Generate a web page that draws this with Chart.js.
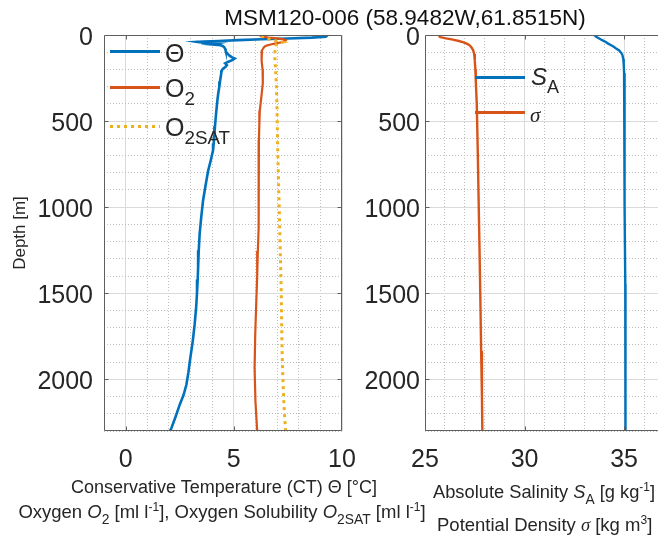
<!DOCTYPE html>
<html><head><meta charset="utf-8">
<script src="https://cdn.jsdelivr.net/npm/chart.js@4.4.0/dist/chart.umd.min.js"></script>
<style>
html,body{margin:0;padding:0;background:#fff;}
#wrap{position:relative;width:658px;height:535px;overflow:hidden;font-family:"Liberation Sans",Arial,Helvetica,sans-serif;color:#262626;}
canvas{position:absolute;top:0;}
.t{position:absolute;white-space:nowrap;line-height:1;}
.c{transform:translate(-50%,-50%);}
.l{transform:translateY(-50%);}
.sub{font-size:0.75em;position:relative;top:0.42em;}
.sup{font-size:0.65em;position:relative;top:-0.62em;}
.ln{position:absolute;height:3px;width:50px;}
.serif{font-family:"Liberation Serif","DejaVu Serif",serif;font-style:italic;}
</style>
</head><body>
<div id="wrap">
<canvas id="cl" width="380" height="535" style="left:0"></canvas>
<canvas id="cr" width="308" height="535" style="left:350px"></canvas>

<div class="t c" style="left:405px;top:18px;font-size:22.5px;color:#111">MSM120-006 (58.9482W,61.8515N)</div>

<div class="ln" style="left:110px;top:50px;background:#0072BD"></div>
<div class="t l" style="left:165px;top:53px;font-size:25px">&Theta;</div>
<div class="ln" style="left:110px;top:86px;background:#D95319"></div>
<div class="t l" style="left:165px;top:88px;font-size:25px">O<span class="sub">2</span></div>
<div class="ln" style="left:110px;top:125px;background:repeating-linear-gradient(to right,#EDB120 0 3px,transparent 3px 7px)"></div>
<div class="t l" style="left:165px;top:127px;font-size:25px">O<span class="sub">2SAT</span></div>

<div class="ln" style="left:475px;top:76px;background:#0072BD"></div>
<div class="t l" style="left:531px;top:77px;font-size:24px"><i>S</i><span class="sub">A</span></div>
<div class="ln" style="left:475px;top:111px;background:#D95319"></div>
<div class="t l serif" style="left:530px;top:115px;font-size:21px">&sigma;</div>

<div class="t c" style="left:224px;top:487px;font-size:18px">Conservative Temperature (CT) &Theta; [&deg;C]</div>
<div class="t c" style="left:222px;top:512px;font-size:18.5px">Oxygen <i>O</i><span class="sub">2</span> [ml l<span class="sup">-1</span>], Oxygen Solubility <i>O</i><span class="sub">2SAT</span> [ml l<span class="sup">-1</span>]</div>
<div class="t l" style="left:433px;top:492px;font-size:18.3px">Absolute Salinity <i>S</i><span class="sub">A</span> [g kg<span class="sup">-1</span>]</div>
<div class="t l" style="left:437px;top:525px;font-size:18.5px">Potential Density <span class="serif">&sigma;</span> [kg m<span class="sup">3</span>]</div>
</div>
<script>
// ---- data (depth in m) ----
const depthTheta = [0,5,10,15,20,25,30,35,38,40,42,45,48,50,55,60,65,70,80,90,100,110,120,130,137,145,155,165,175,185,195,205,220,240,270,300,340,380,430,485,530,580,630,670,730,790,870,960,1050,1155,1250,1350,1420,1494,1580,1681,1780,1875,1960,2030,2090,2147,2220,2292,2300];
const theta = [9.3,9.3,9.25,8.6,7.5,6.3,5.2,4.3,3.6,3.3,3.4,3.8,3.5,4.2,4.0,4.4,4.5,4.55,4.6,4.62,4.65,4.72,4.8,4.92,5.04,4.95,4.75,4.6,4.68,4.62,4.5,4.45,4.42,4.4,4.36,4.33,4.28,4.24,4.2,4.16,4.13,4.1,4.07,4.04,3.93,3.81,3.7,3.58,3.5,3.42,3.38,3.35,3.33,3.3,3.26,3.19,3.1,2.99,2.9,2.81,2.68,2.5,2.3,2.09,2.06];

const depthO2 = [0,8,15,20,25,30,35,40,45,50,55,60,65,70,80,90,110,150,200,280,350,440,520,610,670,800,1000,1120,1254,1400,1545,1739,1934,2128,2300];
const o2 = [6.4,6.3,6.6,7.0,7.3,7.4,7.35,7.3,7.1,6.9,6.7,6.55,6.45,6.4,6.35,6.3,6.27,6.3,6.33,6.34,6.28,6.2,6.18,6.16,6.14,6.15,6.16,6.14,6.11,6.08,6.04,5.99,5.96,6.0,6.08];

const depthO2sat = [0,10,20,30,38,42,50,60,80,100,140,200,300,450,672,870,1060,1270,1487,1660,1836,2000,2127,2200,2292,2300];
const o2sat = [6.3,6.35,6.5,6.8,7.1,7.25,7.0,6.95,6.92,6.9,6.9,6.93,6.97,7.0,7.03,7.07,7.11,7.15,7.19,7.21,7.23,7.27,7.31,7.34,7.39,7.4];

const depthSA = [0,10,20,30,41,50,60,70,79,90,108,118,140,167,220,322,500,672,1000,1446,1800,2300];
const sa = [33.5,33.6,33.75,33.9,34.08,34.2,34.35,34.5,34.6,34.75,34.88,34.92,34.96,34.98,35.0,35.01,35.02,35.03,35.04,35.06,35.07,35.07];

const depthSigma = [0,12,20,27,35,41,50,60,75,89,110,147,200,264,400,672,1000,1254,1600,1836,2100,2300];
const sigma = [25.7,25.75,26.05,26.4,26.7,26.9,27.1,27.25,27.35,27.42,27.47,27.5,27.53,27.55,27.6,27.65,27.7,27.74,27.79,27.82,27.86,27.88];

const leftXTicks = [0,5,10];
const rightXTicks = [25,30,35];
const depthTicks = [0,500,1000,1500,2000];

// ---- helpers ----
function pts(xs, ys){ return xs.map((x,i)=>({x:x, y:ys[i]})); }

const boxPlugin = {
  id: 'box',
  afterDraw(chart, args, opts){
    const {ctx, chartArea:a, scales} = chart;
    ctx.save();
    ctx.strokeStyle = '#5f5f5f';
    ctx.lineWidth = 1;
    const L = Math.round(a.left)+0.5, R = Math.round(a.right)-0.5, T = Math.round(a.top)+0.5, B = Math.round(a.bottom)-0.5;
    ctx.beginPath();
    if (opts.right){ ctx.moveTo(R,T); ctx.lineTo(R,B); }
    ctx.moveTo(L,T); ctx.lineTo(opts.right?R:a.right,T);
    ctx.moveTo(L,T); ctx.lineTo(L,B); ctx.lineTo(opts.right?R:a.right,B);
    const tl = 4;
    opts.xt.forEach(v=>{
      const p = Math.round(scales.x.getPixelForValue(v))+0.5;
      if (p < a.left+1 || p > a.right-1) return;
      ctx.moveTo(p,B); ctx.lineTo(p,B-tl);
      ctx.moveTo(p,T); ctx.lineTo(p,T+tl);
    });
    opts.yt.forEach(v=>{
      const p = Math.round(scales.y.getPixelForValue(v))+0.5;
      if (p < a.top+1 || p > a.bottom-1) return;
      ctx.moveTo(L,p); ctx.lineTo(L+tl,p);
      if (opts.right){ ctx.moveTo(R,p); ctx.lineTo(R-tl,p); }
    });
    ctx.stroke();
    ctx.restore();
  }
};

function gridOpts(majors){
  return {
    drawTicks:false,
    lineWidth:1,
    color: c => (c.tick && majors.includes(c.tick.value)) ? '#dadada' : '#c0c0c0'
  };
}
function borderOpts(majors){
  return {
    display:false,
    dash: c => (c.tick && !majors.includes(c.tick.value)) ? [1,2] : []
  };
}

function yScale(width, pad, withTitle){
  return {
    type:'linear', reverse:true, min:0, max:2300, position:'left',
    afterFit: s => { s.width = width; },
    ticks:{stepSize:100, autoSkip:false, padding:pad, labelOffset:3, color:'#262626',
      font:{family:'"Liberation Sans", Arial, sans-serif', size:25},
      callback: v => depthTicks.includes(v) ? String(v) : ''},
    grid: gridOpts(depthTicks),
    border: borderOpts(depthTicks),
    title: withTitle ? {display:true, text:'Depth [m]', color:'#262626',
      font:{family:'"Liberation Sans", Arial, sans-serif', size:17}, padding:{top:10,bottom:0}} : {display:false}
  };
}
function xScale(min, max, majors){
  return {
    type:'linear', min:min, max:max, position:'bottom',
    afterFit: s => { s.height = 104; },
    ticks:{stepSize:1, autoSkip:false, includeBounds:false, maxRotation:0, minRotation:0, padding:14, color:'#262626',
      font:{family:'"Liberation Sans", Arial, sans-serif', size:25},
      callback: v => majors.includes(v) ? String(v) : ''},
    grid: gridOpts(majors),
    border: borderOpts(majors)
  };
}

const common = {
  responsive:false, animation:false, events:[],
  elements:{point:{radius:0}, line:{tension:0, borderCapStyle:'butt'}}
};

new Chart(document.getElementById('cl'), {
  type:'scatter',
  data:{datasets:[
    {label:'O2SAT', data:pts(o2sat, depthO2sat), showLine:true, borderColor:'#EDB120', borderWidth:3, borderDash:[3,4], pointRadius:0},
    {label:'O2', data:pts(o2, depthO2), showLine:true, borderColor:'#D95319', borderWidth:2.2, pointRadius:0},
    {label:'Θ', data:pts(theta, depthTheta), showLine:true, borderColor:'#0072BD', borderWidth:2.6, pointRadius:0}
  ]},
  options:Object.assign({}, common, {
    layout:{padding:{left:0, top:35, right:38, bottom:0}},
    scales:{x:xScale(-1, 10, leftXTicks), y:yScale(104, 11, true)},
    plugins:{legend:{display:false}, tooltip:{enabled:false}, box:{xt:leftXTicks, yt:depthTicks, right:true}}
  }),
  plugins:[boxPlugin]
});

new Chart(document.getElementById('cr'), {
  type:'scatter',
  data:{datasets:[
    {label:'σ', data:pts(sigma, depthSigma), showLine:true, borderColor:'#D95319', borderWidth:2.4, pointRadius:0},
    {label:'SA', data:pts(sa, depthSA), showLine:true, borderColor:'#0072BD', borderWidth:2.4, pointRadius:0}
  ]},
  options:Object.assign({}, common, {
    layout:{padding:{left:0, top:35, right:0, bottom:0}},
    scales:{x:xScale(25, 36.7, rightXTicks), y:yScale(75, 5, false)},
    plugins:{legend:{display:false}, tooltip:{enabled:false}, box:{xt:rightXTicks, yt:depthTicks, right:false}}
  }),
  plugins:[boxPlugin]
});
</script>
</body></html>
